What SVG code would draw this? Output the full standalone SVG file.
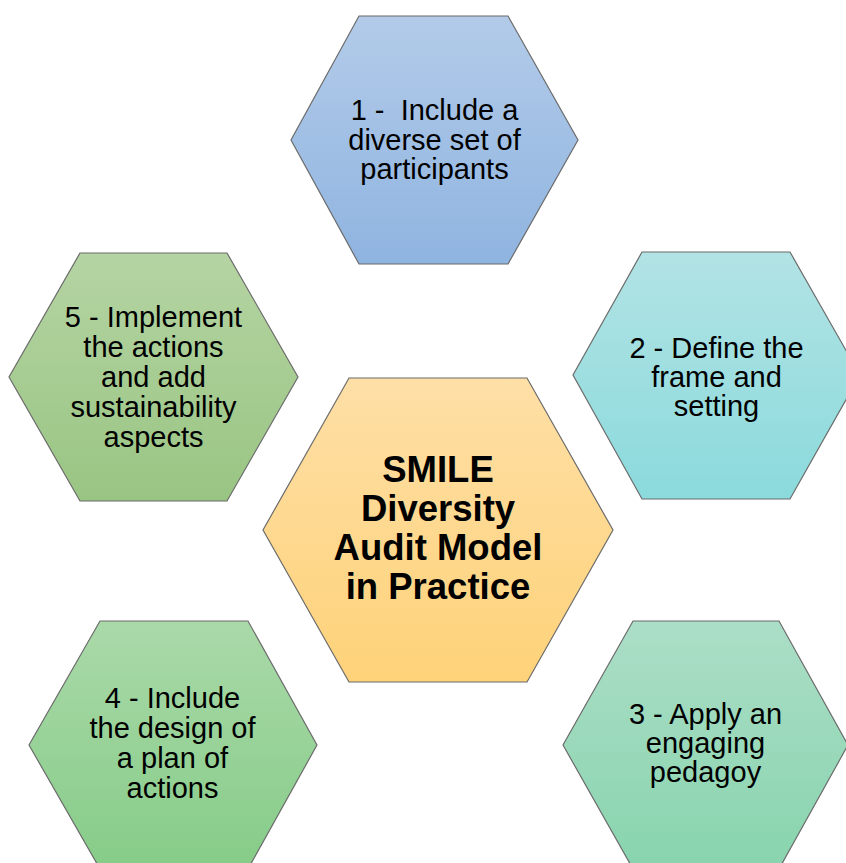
<svg xmlns="http://www.w3.org/2000/svg" width="846" height="863" viewBox="0 0 846 863">
<defs>
<linearGradient id="g1" x1="0" y1="0" x2="0" y2="1"><stop offset="0" stop-color="#b3cbe9"/><stop offset="1" stop-color="#8fb4e0"/></linearGradient>
<linearGradient id="g2" x1="0" y1="0" x2="0" y2="1"><stop offset="0" stop-color="#b2e3e5"/><stop offset="1" stop-color="#8bdadc"/></linearGradient>
<linearGradient id="g3" x1="0" y1="0" x2="0" y2="1"><stop offset="0" stop-color="#acdec7"/><stop offset="1" stop-color="#88d4ae"/></linearGradient>
<linearGradient id="g4" x1="0" y1="0" x2="0" y2="1"><stop offset="0" stop-color="#aad9a9"/><stop offset="1" stop-color="#86cc88"/></linearGradient>
<linearGradient id="g5" x1="0" y1="0" x2="0" y2="1"><stop offset="0" stop-color="#b5d4a3"/><stop offset="1" stop-color="#99c583"/></linearGradient>
<linearGradient id="gc" x1="0" y1="0" x2="0" y2="1"><stop offset="0" stop-color="#fedfa6"/><stop offset="1" stop-color="#fed279"/></linearGradient>
</defs>
<style>
.hex{stroke:#6b6b6b;stroke-width:1.2}
.t{font-family:"Liberation Sans",Arial,sans-serif;font-size:29px;fill:#000;text-anchor:middle}
.c{font-family:"Liberation Sans",Arial,sans-serif;font-size:36.5px;font-weight:bold;fill:#000;text-anchor:middle}
</style>
<g id="connectors"></g>
<g id="node1">
<polygon class="hex" fill="url(#g1)" points="359,16 508,16 578,140 508,264 359,264 291,140"/>
<text class="t" xml:space="preserve"><tspan x="434.5" y="120">1 -  Include a</tspan><tspan x="434.5" y="150">diverse set of</tspan><tspan x="434.5" y="179">participants</tspan></text>
</g>
<g id="node2">
<polygon class="hex" fill="url(#g2)" points="642,252 790,252 860,375 790,499 642,499 573,375"/>
<text class="t"><tspan x="716.5" y="358">2 - Define the</tspan><tspan x="716.5" y="387">frame and</tspan><tspan x="716.5" y="416">setting</tspan></text>
</g>
<g id="node3">
<polygon class="hex" fill="url(#g3)" points="633,621 779,621 848,745 779,869 633,869 563,745"/>
<text class="t"><tspan x="705.5" y="724">3 - Apply an</tspan><tspan x="705.5" y="753">engaging</tspan><tspan x="705.5" y="782">pedagoy</tspan></text>
</g>
<g id="node4">
<polygon class="hex" fill="url(#g4)" points="100,621 248,621 317,745 248,869 100,869 29,745"/>
<text class="t"><tspan x="172.5" y="708">4 - Include</tspan><tspan x="172.5" y="738">the design of</tspan><tspan x="172.5" y="768">a plan of</tspan><tspan x="172.5" y="798">actions</tspan></text>
</g>
<g id="node5">
<polygon class="hex" fill="url(#g5)" points="80,253 227,253 298,377 227,501 80,501 9,377"/>
<text class="t"><tspan x="153.5" y="327">5 - Implement</tspan><tspan x="153.5" y="357">the actions</tspan><tspan x="153.5" y="387">and add</tspan><tspan x="153.5" y="417">sustainability</tspan><tspan x="153.5" y="447">aspects</tspan></text>
</g>
<g id="center">
<polygon class="hex" fill="url(#gc)" points="349,378 527,378 613,530 527,682 349,682 263,530"/>
<text class="c"><tspan x="438" y="482">SMILE</tspan><tspan x="438" y="521">Diversity</tspan><tspan x="438" y="560">Audit Model</tspan><tspan x="438" y="599">in Practice</tspan></text>
</g>
</svg>
